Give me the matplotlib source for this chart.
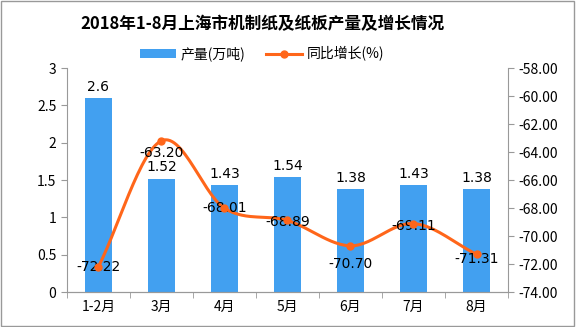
import numpy as np
import matplotlib
matplotlib.use("Agg")
import matplotlib.pyplot as plt
from matplotlib.patches import Rectangle
from matplotlib.ticker import FixedLocator, FuncFormatter

plt.rcParams['font.family'] = ['Noto Sans CJK SC', 'DejaVu Sans']

months = ['1-2月', '3月', '4月', '5月', '6月', '7月', '8月']
output = [2.6, 1.52, 1.43, 1.54, 1.38, 1.43, 1.38]
growth = [-72.22, -63.20, -68.01, -68.89, -70.70, -69.11, -71.31]

bar_color = '#42A0F0'
line_color = '#FF661A'


def catmull_rom(x, y, n=30):
    # smooth path through the points, like the spreadsheet's smoothed line
    x = np.asarray(x, float)
    y = np.asarray(y, float)
    px = np.concatenate([[2 * x[0] - x[1]], x, [2 * x[-1] - x[-2]]])
    py = np.concatenate([[2 * y[0] - y[1]], y, [2 * y[-1] - y[-2]]])
    xs, ys = [], []
    for i in range(1, len(px) - 2):
        t = np.linspace(0, 1, n)
        for p, out in ((px, xs), (py, ys)):
            p0, p1, p2, p3 = p[i - 1], p[i], p[i + 1], p[i + 2]
            out.extend(0.5 * ((2 * p1) + (-p0 + p2) * t
                              + (2 * p0 - 5 * p1 + 4 * p2 - p3) * t ** 2
                              + (-p0 + 3 * p1 - 3 * p2 + p3) * t ** 3))
    return np.array(xs), np.array(ys)


fig = plt.figure(figsize=(5.76, 3.27), dpi=100)
ax = fig.add_axes([0.116, 0.107, 0.766, 0.685])
ax2 = ax.twinx()

x = np.arange(len(months))
bars = ax.bar(x, output, width=0.43, color=bar_color, label='产量(万吨)', zorder=2)
for xi, v in zip(x, output):
    ax.annotate(f'{v:g}', (xi, v), xytext=(0, 3), textcoords='offset points',
                ha='center', va='bottom', fontsize=10, family=['DejaVu Sans'])

ax.set_xlim(-0.5, len(months) - 0.5)
ax.set_ylim(0, 3)
ax.yaxis.set_major_locator(FixedLocator([0, 0.5, 1, 1.5, 2, 2.5, 3]))
ax.yaxis.set_major_formatter(FuncFormatter(lambda v, p: f'{v:g}'))
ax.set_xticks(x)
ax.set_xticklabels(months, fontsize=10)
ax.set_xticks(np.arange(-0.5, len(months)), minor=True)
ax.tick_params(axis='x', which='major', length=0, pad=6)
ax.tick_params(axis='x', which='minor', length=4, color='#999999')
ax.tick_params(axis='y', length=4, color='#999999', labelsize=10)

sx, sy = catmull_rom(x, growth)
ax2.plot(sx, sy, color=line_color, lw=2.2, zorder=3)
ax2.plot(x, growth, 'o', color=line_color, ms=5, zorder=4)
ax2.plot([], [], color=line_color, lw=2.2, marker='o', ms=5, label='同比增长(%)')
label_dy = [0, -9, 0, -1, -13, -2, -3]
for xi, v, dy in zip(x, growth, label_dy):
    ax2.annotate(f'{v:.2f}', (xi, v), xytext=(0, dy), textcoords='offset points',
                 ha='center', va='center', fontsize=10, family=['DejaVu Sans'])
ax2.set_ylim(-74, -58)
ax2.yaxis.set_major_locator(FixedLocator(np.arange(-74, -57, 2)))
ax2.yaxis.set_major_formatter(FuncFormatter(lambda v, p: f'-{abs(v):.2f}'))
ax2.tick_params(axis='y', length=4, color='#999999', labelsize=10)

for a in (ax, ax2):
    a.spines['top'].set_visible(False)
    for s in ('left', 'right', 'bottom'):
        a.spines[s].set_color('#999999')
ax2.spines['left'].set_visible(False)
ax.spines['right'].set_visible(False)

fig.text(0.455, 0.925, '2018年1-8月上海市机制纸及纸板产量及增长情况',
         ha='center', va='center', fontsize=12, fontweight='bold')
h1, l1 = ax.get_legend_handles_labels()
h2, l2 = ax2.get_legend_handles_labels()
fig.legend(h1 + h2, l1 + l2, loc='center', bbox_to_anchor=(0.455, 0.835), ncol=2,
           frameon=False, fontsize=10, handlelength=2.6, columnspacing=1.5,
           handletextpad=0.3)

fig.patches.append(Rectangle((0.002, 0.003), 0.995, 0.993, transform=fig.transFigure,
                             fill=False, edgecolor='#999999', lw=1))

fig.savefig('out.png', dpi=100)
